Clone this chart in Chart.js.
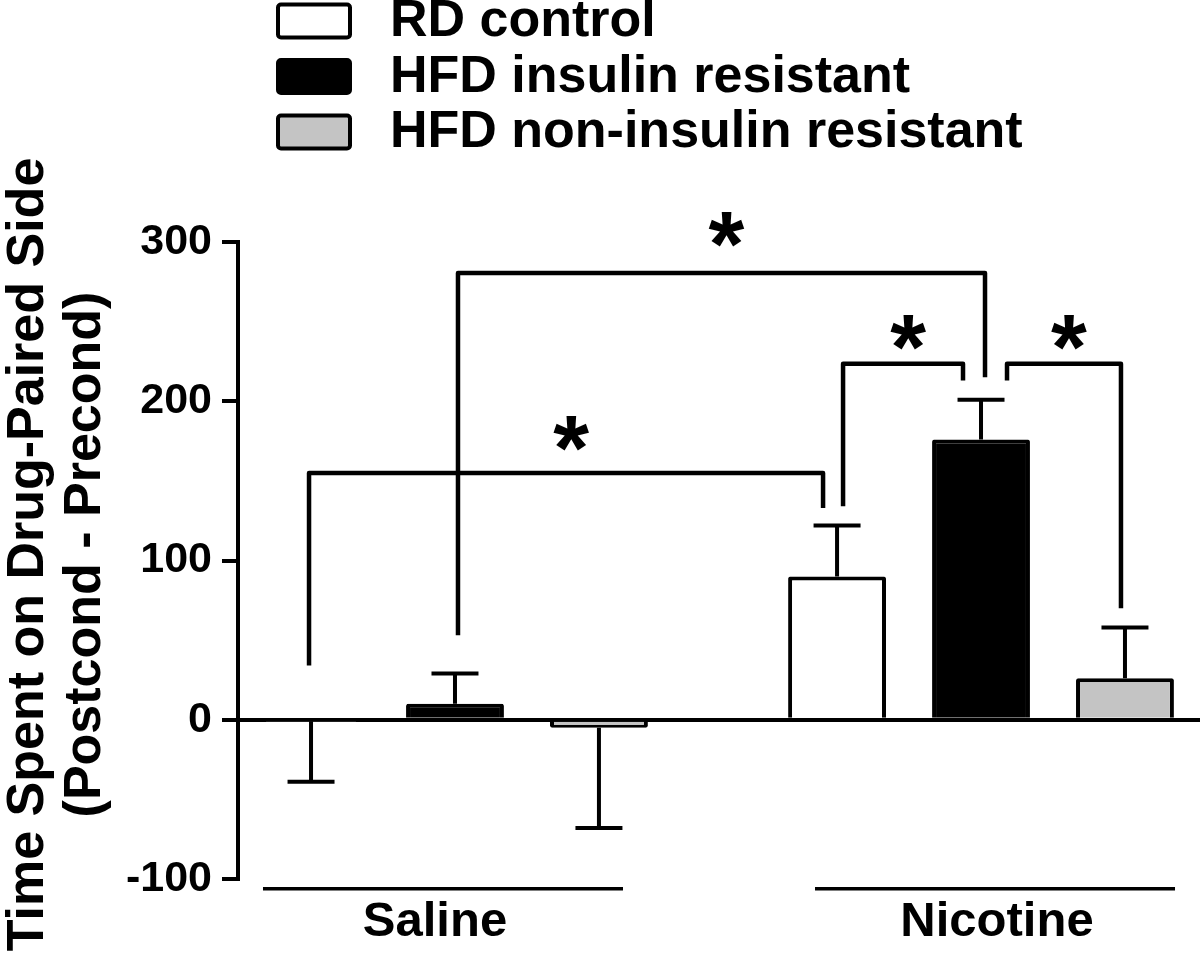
<!DOCTYPE html>
<html><head><meta charset="utf-8">
<script src="https://cdn.jsdelivr.net/npm/chart.js@4.4.1/dist/chart.umd.min.js"></script>
<style>html,body{margin:0;padding:0;background:#fff}canvas{display:block}</style>
</head><body>
<canvas id="c" width="1200" height="959"></canvas>
<script>
// ---- data ----
const categories = ['Saline', 'Nicotine'];
const seriesNames = ['RD control', 'HFD insulin resistant', 'HFD non-insulin resistant'];
const rdControl = [-1, 90];
const hfdInsulinResistant = [10, 176];
const hfdNonInsulinResistant = [-5, 26];
const rdControlSem = [38, 32];
const hfdInsulinResistantSem = [19, 25];
const hfdNonInsulinResistantSem = [63, 32];
const yTicks = [-100, 0, 100, 200, 300];
const yTitle = ['Time Spent on Drug-Paired Side', '(Postcond - Precond)'];
const starLabel = '*';

// significance brackets (y in data units; dx = small pixel nudge from bar centre)
const brackets = [
  {from: [0, 0], to: [0, 1], fromLow: 34,  toLow: 133, top: 155,   star: 180, dxFrom: -2, dxTo: -14},
  {from: [0, 1], to: [1, 1], fromLow: 134, toLow: 213, top: 223.5, star: 243, dxFrom: 6,  dxTo: -18},
  {from: [1, 0], to: [1, 1], fromLow: 53,  toLow: 215, top: 280.5, star: 308, dxFrom: 3,  dxTo: 4},
  {from: [1, 1], to: [2, 1], fromLow: 213, toLow: 70,  top: 223.5, star: 243, dxFrom: 26, dxTo: -4}
];
const groupLineShift = [-12, 14];

const seriesValues = [rdControl, hfdInsulinResistant, hfdNonInsulinResistant];
const seriesSem = [rdControlSem, hfdInsulinResistantSem, hfdNonInsulinResistantSem];
const seriesFill = ['#ffffff', '#000000', '#c4c4c4'];

const FONT = '"Liberation Sans", Arial, Helvetica, sans-serif';

const overlay = {
  id: 'overlay',
  afterDatasetsDraw(chart) {
    const ctx = chart.ctx, ys = chart.scales.y;
    ctx.save();
    ctx.strokeStyle = '#000';
    ctx.lineWidth = 4;
    ctx.lineCap = 'butt';
    // one-sided error bars (away from zero)
    chart.data.datasets.forEach((ds, di) => {
      const meta = chart.getDatasetMeta(di);
      meta.data.forEach((el, i) => {
        const v = seriesValues[di][i], s = seriesSem[di][i];
        const end = v >= 0 ? v + s : v - s;
        const ye = ys.getPixelForValue(end);
        const cap = el.width * 0.48;
        ctx.beginPath();
        ctx.moveTo(el.x, el.y); ctx.lineTo(el.x, ye);
        ctx.moveTo(el.x - cap / 2, ye); ctx.lineTo(el.x + cap / 2, ye);
        ctx.stroke();
      });
    });
    // significance brackets + stars
    ctx.lineJoin = 'round';
    ctx.lineWidth = 4.5;
    brackets.forEach(b => {
      const e1 = chart.getDatasetMeta(b.from[0]).data[b.from[1]];
      const e2 = chart.getDatasetMeta(b.to[0]).data[b.to[1]];
      const x1 = e1.x + b.dxFrom, x2 = e2.x + b.dxTo;
      const yt = ys.getPixelForValue(b.top);
      ctx.beginPath();
      ctx.moveTo(x1, ys.getPixelForValue(b.fromLow));
      ctx.lineTo(x1, yt);
      ctx.lineTo(x2, yt);
      ctx.lineTo(x2, ys.getPixelForValue(b.toLow));
      ctx.stroke();
      ctx.fillStyle = '#000';
      ctx.font = 'bold 92px ' + FONT;
      ctx.textAlign = 'center';
      ctx.textBaseline = 'alphabetic';
      const m = ctx.measureText(starLabel);
      const cy = ys.getPixelForValue(b.star);
      const by = cy + (m.actualBoundingBoxAscent - m.actualBoundingBoxDescent) / 2;
      ctx.fillText(starLabel, (x1 + x2) / 2 + 5, by);
    });
    ctx.restore();
  },
  afterDraw(chart) {
    const ctx = chart.ctx, ca = chart.chartArea, xs = chart.scales.x;
    ctx.save();
    // legend
    const boxX = 278, boxW = 72, boxH = 33, textX = 390, row0 = 21, rowH = 55.5;
    chart.data.datasets.forEach((ds, i) => {
      const cy = row0 + i * rowH;
      ctx.beginPath();
      if (ctx.roundRect) ctx.roundRect(boxX, cy - boxH / 2, boxW, boxH, 3);
      else ctx.rect(boxX, cy - boxH / 2, boxW, boxH);
      ctx.fillStyle = ds.backgroundColor;
      ctx.fill();
      ctx.lineWidth = 4; ctx.strokeStyle = '#000';
      ctx.stroke();
      ctx.fillStyle = '#000';
      ctx.font = 'bold 52px ' + FONT;
      ctx.textAlign = 'left'; ctx.textBaseline = 'middle';
      ctx.fillText(ds.label, textX, cy + 1);
    });
    // y-axis title (two rotated lines)
    ctx.save();
    const ty = (ca.top + ca.bottom) / 2 - 6;
    ctx.translate(28.5, ty);
    ctx.rotate(-Math.PI / 2);
    ctx.font = 'bold 52px ' + FONT;
    ctx.textAlign = 'center'; ctx.textBaseline = 'middle';
    ctx.fillStyle = '#000';
    yTitle.forEach((t, k) => ctx.fillText(t, 0, k * 57));
    ctx.restore();
    // group labels with underline
    categories.forEach((c, i) => {
      const cx = xs.getPixelForValue(i + 1) + groupLineShift[i];
      ctx.fillStyle = '#000';
      ctx.fillRect(cx - 180, ca.bottom + 8, 360, 3.5);
      ctx.font = 'bold 49px ' + FONT;
      ctx.textAlign = 'center'; ctx.textBaseline = 'alphabetic';
      ctx.fillText(c, cx - 8 + (i ? 10 : 0), 936);
    });
    ctx.restore();
  }
};

new Chart(document.getElementById('c'), {
  type: 'bar',
  data: {
    datasets: seriesNames.map((name, di) => ({
      label: name,
      data: categories.map((c, i) => ({x: i + 1, y: seriesValues[di][i]})),
      backgroundColor: seriesFill[di],
      borderColor: '#000',
      borderWidth: 4,
      borderRadius: 2,
      categoryPercentage: 0.821,
      barPercentage: 0.68
    }))
  },
  options: {
    responsive: false,
    animation: false,
    layout: {padding: {top: 242, bottom: 80, left: 0, right: 0}},
    plugins: {legend: {display: false}, tooltip: {enabled: false}},
    scales: {
      x: {
        type: 'linear',
        display: false,
        offset: false,
        min: 0.5875,
        max: 2.4163,
        afterBuildTicks: s => { s.ticks = categories.map((c, i) => ({value: i + 1})); }
      },
      y: {
        min: yTicks[0],
        max: yTicks[yTicks.length - 1],
        afterBuildTicks: s => { s.ticks = yTicks.map(v => ({value: v})); },
        afterFit: s => { s.width = 238; },
        ticks: {
          color: '#000',
          padding: 10,
          font: {family: FONT, size: 43, weight: 'bold'}
        },
        grid: {
          drawOnChartArea: true,
          color: c => (c.tick && c.tick.value === 0) ? '#000' : 'rgba(0,0,0,0)',
          tickColor: '#000',
          lineWidth: 4,
          tickWidth: 4,
          tickLength: 16
        },
        border: {display: true, color: '#000', width: 4}
      }
    }
  },
  plugins: [overlay]
});
</script>
</body></html>
